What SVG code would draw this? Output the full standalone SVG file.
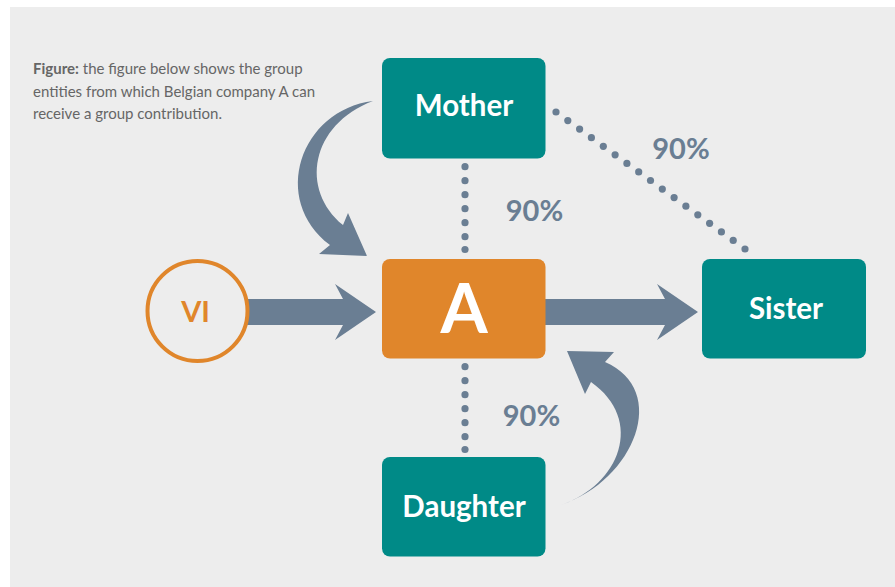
<svg xmlns="http://www.w3.org/2000/svg" width="895" height="587" viewBox="0 0 895 587">
<style>
.box{fill:#008a87}
.lbl{font-family:Lato,"Open Sans",sans-serif;font-weight:700;fill:#ffffff;text-anchor:middle}
.pct{font-family:Lato,"Open Sans",sans-serif;font-weight:700;font-size:29px;fill:#6a7e93;text-anchor:middle}
.cap{font-family:Lato,"Open Sans",sans-serif;font-size:15px;fill:#666666}
.arr{fill:#6a7e93}
.dot{fill:#6a7e93}
</style>
<rect x="0" y="0" width="895" height="587" fill="#ffffff"/>
<rect x="10" y="7" width="885" height="580" fill="#ededed"/>
<g id="caption">
<text class="cap" x="33" y="74"><tspan font-weight="700">Figure:</tspan> the figure below shows the group</text>
<text class="cap" x="33" y="96.5">entities from which Belgian company A can</text>
<text class="cap" x="33" y="119">receive a group contribution.</text>
</g>
<g id="connectors">
<polygon class="arr" points="240,299 343,299 335,284 376,312 335,340 343,325 240,325"/>
<polygon class="arr" points="545,299 665,299 657,284 698,312 657,340 665,325 545,325"/>
<path class="arr" d="M373,101 C300,110 270,200 330,245 L319,254 L367,256 L348,213 L343,225 C300,190 310,125 373,101 Z"/>
<path class="arr" d="M561,505 C635,480 670,390 605,362 L614,352 L567,351 L585,394 L591,382 C645,420 620,485 561,505 Z"/>
<g id="dots-mother-a">
<circle class="dot" cx="465" cy="166.7" r="3.6"/>
<circle class="dot" cx="465" cy="180.7" r="3.6"/>
<circle class="dot" cx="465" cy="194.7" r="3.6"/>
<circle class="dot" cx="465" cy="208.7" r="3.6"/>
<circle class="dot" cx="465" cy="222.7" r="3.6"/>
<circle class="dot" cx="465" cy="236.7" r="3.6"/>
<circle class="dot" cx="465" cy="249.5" r="3.6"/>
</g>
<g id="dots-a-daughter">
<circle class="dot" cx="465" cy="366.7" r="3.6"/>
<circle class="dot" cx="465" cy="380.7" r="3.6"/>
<circle class="dot" cx="465" cy="394.7" r="3.6"/>
<circle class="dot" cx="465" cy="408.7" r="3.6"/>
<circle class="dot" cx="465" cy="422.7" r="3.6"/>
<circle class="dot" cx="465" cy="436.7" r="3.6"/>
<circle class="dot" cx="465" cy="449.5" r="3.6"/>
</g>
<g id="dots-mother-sister">
<circle class="dot" cx="556" cy="112" r="3.6"/>
<circle class="dot" cx="567.8" cy="120.6" r="3.6"/>
<circle class="dot" cx="579.6" cy="129.1" r="3.6"/>
<circle class="dot" cx="591.4" cy="137.7" r="3.6"/>
<circle class="dot" cx="603.3" cy="146.3" r="3.6"/>
<circle class="dot" cx="615.1" cy="154.8" r="3.6"/>
<circle class="dot" cx="626.9" cy="163.4" r="3.6"/>
<circle class="dot" cx="638.7" cy="171.9" r="3.6"/>
<circle class="dot" cx="650.5" cy="180.5" r="3.6"/>
<circle class="dot" cx="662.3" cy="189.1" r="3.6"/>
<circle class="dot" cx="674.1" cy="197.6" r="3.6"/>
<circle class="dot" cx="685.9" cy="206.2" r="3.6"/>
<circle class="dot" cx="697.8" cy="214.8" r="3.6"/>
<circle class="dot" cx="709.6" cy="223.3" r="3.6"/>
<circle class="dot" cx="721.4" cy="231.9" r="3.6"/>
<circle class="dot" cx="733.2" cy="240.4" r="3.6"/>
<circle class="dot" cx="745" cy="249" r="3.6"/>
</g>
<text class="pct" x="534.5" y="221">90%</text>
<text class="pct" x="681" y="159">90%</text>
<text class="pct" x="531.5" y="425.5">90%</text>
</g>
<g id="vi">
<circle cx="197.5" cy="311" r="50" fill="#ededed" stroke="#e0862b" stroke-width="4"/>
<text x="195.5" y="322.3" font-family="Lato,'Open Sans',sans-serif" font-weight="700" font-size="29" fill="#e0862b" text-anchor="middle">VI</text>
</g>
<g id="mother">
<rect class="box" x="382" y="58" width="163.5" height="100.5" rx="8"/>
<text class="lbl" x="464" y="115.7" font-size="29.5">Mother</text>
</g>
<g id="a">
<rect x="382" y="259" width="163.5" height="99.5" rx="8" fill="#e0862b"/>
<text class="lbl" x="464" y="333" font-size="68">A</text>
</g>
<g id="sister">
<rect class="box" x="702" y="259" width="164" height="99.5" rx="8"/>
<text class="lbl" x="786" y="319" font-size="29.5">Sister</text>
</g>
<g id="daughter">
<rect class="box" x="382" y="457" width="163.5" height="99.5" rx="8"/>
<text class="lbl" x="464" y="517" font-size="29.5">Daughter</text>
</g>
</svg>
